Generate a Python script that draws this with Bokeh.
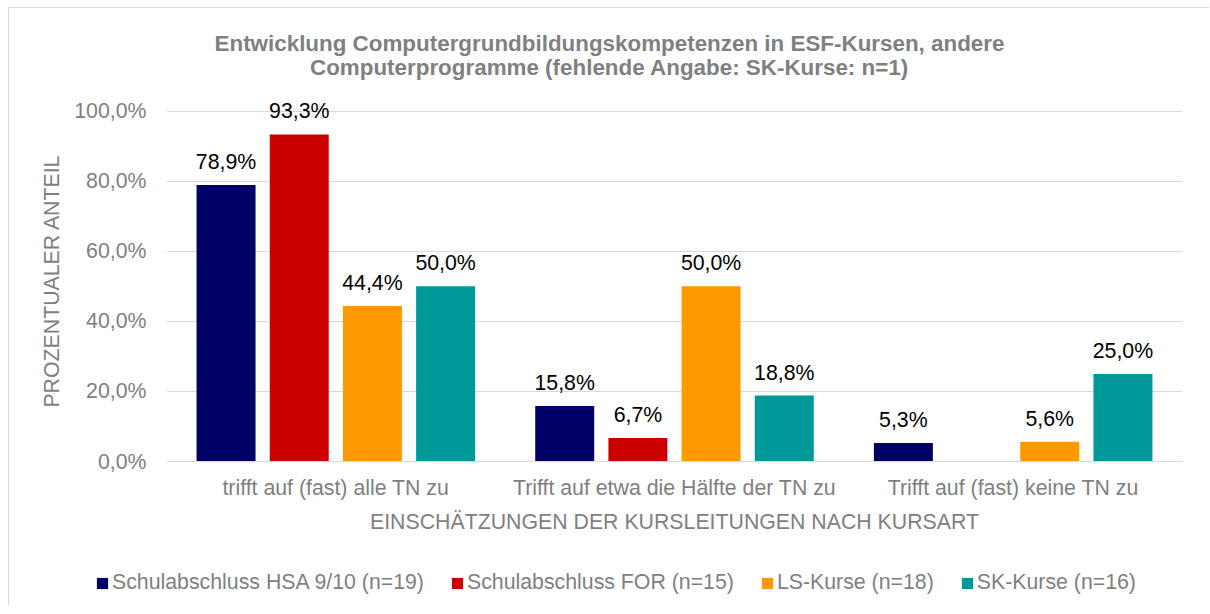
from bokeh.plotting import figure
from bokeh.models import ColumnDataSource, FixedTicker, Legend, LegendItem, LabelSet, Label, Range1d
from bokeh.layouts import column
from bokeh.core.properties import value
from bokeh.embed import file_html
from bokeh.resources import INLINE

# ---------------- data ----------------
title_lines = ["Entwicklung Computergrundbildungskompetenzen in ESF-Kursen, andere",
               "Computerprogramme (fehlende Angabe: SK-Kurse: n=1)"]
categories = ["trifft auf (fast) alle TN zu",
              "Trifft auf etwa die Hälfte der TN zu",
              "Trifft auf (fast) keine TN zu"]
series_names = ["Schulabschluss HSA 9/10 (n=19)", "Schulabschluss FOR (n=15)",
                "LS-Kurse (n=18)", "SK-Kurse (n=16)"]
hsa = [78.9, 15.8, 5.3]
for_ = [93.3, 6.7, None]
ls = [44.4, 50.0, 5.6]
sk = [50.0, 18.8, 25.0]
series_values = [hsa, for_, ls, sk]
colors = ["#000066", "#CC0000", "#FF9900", "#009999"]
y_ticks = [0, 20, 40, 60, 80, 100]
y_label = "PROZENTUALER ANTEIL"
x_label = "EINSCHÄTZUNGEN DER KURSLEITUNGEN NACH KURSART"

FONT = "Liberation Sans"
GREY = "#7f7f7f"
FS = "21.3px"

def fmt(v):
    return f"{v:.1f}".replace(".", ",") + "%"

def bare(fig):
    fig.outline_line_color = None
    fig.xgrid.visible = False
    fig.ygrid.visible = False
    fig.background_fill_color = "white"
    fig.border_fill_color = "white"

# ---------------- title strip ----------------
pt = figure(width=1200, height=87, output_backend="svg", toolbar_location=None,
            x_range=Range1d(0, 1200), y_range=Range1d(87, 0),
            x_axis_location=None, y_axis_location=None,
            min_border_left=0, min_border_right=0, min_border_top=0, min_border_bottom=0)
bare(pt)
pt.frame_align = False
for text, yb in zip(title_lines, [35, 59]):
    pt.add_layout(Label(x=600, y=yb, text=text, text_align="center", text_baseline="alphabetic",
                        text_font=FONT, text_font_size="22.4px", text_font_style="bold",
                        text_color="#808080"))

# ---------------- main chart ----------------
p = figure(width=1200, height=465, output_backend="svg", toolbar_location=None,
           x_range=Range1d(0, 3), y_range=Range1d(0, 103),
           min_border_left=157, min_border_right=27, min_border_top=5, min_border_bottom=99)
p.outline_line_color = None
p.background_fill_color = "white"
p.border_fill_color = "white"

# ---------------- legend strip ----------------
pl = figure(width=1200, height=45, output_backend="svg", toolbar_location=None,
            x_range=Range1d(-10, -9), y_range=Range1d(0, 1),
            x_axis_location=None, y_axis_location=None,
            min_border_left=0, min_border_right=0, min_border_top=0, min_border_bottom=0)
bare(pl)
pl.frame_align = False

step = 0.2161
width = 0.1742
offsets = [-1.5 * step, -0.5 * step, 0.5 * step, 1.5 * step]

items = []
for name, vals, col, off in zip(series_names, series_values, colors, offsets):
    xs, ys, txt = [], [], []
    for i, v in enumerate(vals):
        if v is None:
            continue
        xs.append(i + 0.5 + off)
        ys.append(v)
        txt.append(fmt(v))
    src = ColumnDataSource(dict(x=xs, top=ys, label=txt))
    p.vbar(x="x", top="top", width=width, source=src, fill_color=col, line_color=None)
    lr = pl.vbar(x="x", top="top", width=width, source=src, fill_color=col, line_color=None)
    items.append(LegendItem(label=name, renderers=[lr]))
    lab = LabelSet(x="x", y="top", text="label", source=src, text_align="center",
                   text_baseline="alphabetic", y_offset=16, text_font=value(FONT),
                   text_font_size=FS, text_color="#000000")
    p.add_layout(lab)

# axes
p.yaxis.ticker = FixedTicker(ticks=y_ticks)
p.yaxis.major_label_overrides = {t: fmt(t) for t in y_ticks}
p.yaxis.axis_line_color = None
p.yaxis.major_tick_line_color = None
p.yaxis.minor_tick_line_color = None
p.yaxis.major_label_standoff = 14
p.yaxis.major_label_text_font = FONT
p.yaxis.major_label_text_font_size = FS
p.yaxis.major_label_text_color = GREY
p.yaxis.axis_label = y_label
p.yaxis.axis_label_text_font = FONT
p.yaxis.axis_label_text_font_size = FS
p.yaxis.axis_label_text_font_style = "normal"
p.yaxis.axis_label_text_color = GREY
p.yaxis.axis_label_standoff = 7

p.xaxis.ticker = FixedTicker(ticks=[0.5, 1.5, 2.5])
p.xaxis.major_label_overrides = {0.5: categories[0], 1.5: categories[1], 2.5: categories[2]}
p.xaxis.axis_line_color = "#d9d9d9"
p.xaxis.major_tick_line_color = None
p.xaxis.minor_tick_line_color = None
p.xaxis.major_label_standoff = 8
p.xaxis.major_label_text_font = FONT
p.xaxis.major_label_text_font_size = FS
p.xaxis.major_label_text_color = GREY
p.xaxis.axis_label = x_label
p.xaxis.axis_label_text_font = FONT
p.xaxis.axis_label_text_font_size = FS
p.xaxis.axis_label_text_font_style = "normal"
p.xaxis.axis_label_text_color = GREY
p.xaxis.axis_label_standoff = 7

p.xgrid.grid_line_color = None
p.ygrid.ticker = FixedTicker(ticks=y_ticks)
p.ygrid.grid_line_color = "#d9d9d9"
p.ygrid.grid_line_width = 1

legend = Legend(items=items, orientation="horizontal", location=(86, 10),
                glyph_width=14, glyph_height=14, label_standoff=3, spacing=26,
                padding=0, margin=0, border_line_color=None, background_fill_alpha=0,
                label_text_font=FONT, label_text_font_size=FS, label_text_color=GREY)
pl.add_layout(legend, "center")

layout = column(pt, p, pl, spacing=0,
                styles={"margin-left": "8px", "margin-top": "7px",
                        "border-left": "1px solid #d9d9d9", "border-top": "1px solid #d9d9d9"})

open("out.html", "w").write(file_html(layout, INLINE))
